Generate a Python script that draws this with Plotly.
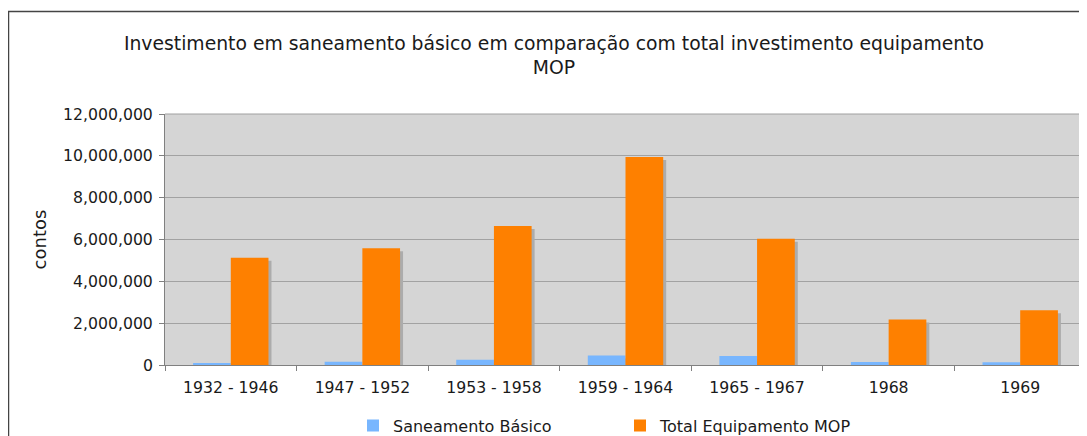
import plotly.graph_objects as go

categories = ["1932 - 1946", "1947 - 1952", "1953 - 1958", "1959 - 1964", "1965 - 1967", "1968", "1969"]
saneamento = [50000, 160000, 255000, 460000, 430000, 145000, 130000]
total_mop = [5130000, 5580000, 6640000, 9940000, 6040000, 2170000, 2620000]
y_ticks = [0, 2000000, 4000000, 6000000, 8000000, 10000000, 12000000]

OFF = 8  # browser default body margin
W, H = 1079, 428
L, R, T, B = 157, 1, 106, 71
pw, ph = W - L - R, H - T - B

bw = 0.2865
sh_dx = 3 / 131.6
sh_dy = 3 * 12000000 / ph
font = "DejaVu Sans, Verdana, sans-serif"
txt = "#1a1a1a"

fig = go.Figure()
for vals, off in [(saneamento, -bw), (total_mop, 0)]:
    fig.add_trace(go.Bar(x=categories, y=vals, base=-sh_dy, offset=off + sh_dx, width=bw,
                         marker=dict(color="rgb(172,172,172)", line=dict(width=0)),
                         showlegend=False, hoverinfo="skip"))
fig.add_trace(go.Bar(x=categories, y=saneamento, name="Saneamento Básico", offset=-bw, width=bw,
                     marker=dict(color="#78b6fe", line=dict(width=0))))
fig.add_trace(go.Bar(x=categories, y=total_mop, name="Total Equipamento MOP", offset=0, width=bw,
                     marker=dict(color="#fe8000", line=dict(width=0))))

# page pixel -> paper coords
px2x = lambda p: (p - OFF - L) / pw
px2y = lambda p: (H - B - (p - OFF)) / ph

fig.update_layout(
    width=W, height=H, barmode="overlay",
    margin=dict(l=L, r=R, t=T, b=B, autoexpand=False),
    paper_bgcolor="white", plot_bgcolor="#d5d5d5",
    font=dict(family=font, size=15.7, color=txt),
    title=dict(text="Investimento em saneamento básico em comparação com total investimento equipamento<br>MOP",
               x=(554 - OFF) / W, xref="container", xanchor="center",
               y=1 - (50 - OFF) / H, yref="container", yanchor="middle",
               font=dict(family=font, size=18.8, color=txt)),
    xaxis=dict(type="category", showgrid=False, tickson="boundaries", ticks="outside", ticklen=5,
               tickcolor="#808080", showline=True, linecolor="#808080", linewidth=1,
               ticklabelstandoff=8,
               tickfont=dict(size=15.7, color=txt), range=[-0.5, len(categories) - 0.5]),
    yaxis=dict(range=[0, 12000000], tickvals=y_ticks, tickformat=",d", ticks="outside", ticklen=5,
               tickcolor="#808080", showline=True, linecolor="#808080", linewidth=1,
               gridcolor="#a2a2a2", gridwidth=1, zeroline=False,
               ticklabelstandoff=3,
               title=dict(text="contos", font=dict(size=18, color=txt), standoff=11),
               tickfont=dict(size=15.7, color=txt)),
    legend=dict(orientation="h", x=px2x(353), xanchor="left", y=px2y(425.5), yanchor="middle",
                font=dict(size=16, color=txt), entrywidth=222, entrywidthmode="pixels",
                bgcolor="rgba(0,0,0,0)", itemclick=False),
    shapes=[
        dict(type="rect", xref="paper", yref="paper", x0=px2x(8.5), x1=px2x(1100), y0=px2y(470), y1=px2y(11.5),
             line=dict(color="#444444", width=1.5), layer="above"),
        dict(type="line", xref="paper", yref="paper", x0=0, x1=1, y0=1, y1=1,
             line=dict(color="#a0a0a0", width=1)),
        dict(type="line", xref="paper", yref="paper", x0=1, x1=1, y0=0, y1=1,
             line=dict(color="#a0a0a0", width=1)),
    ],
)

fig.write_html("out.html")
